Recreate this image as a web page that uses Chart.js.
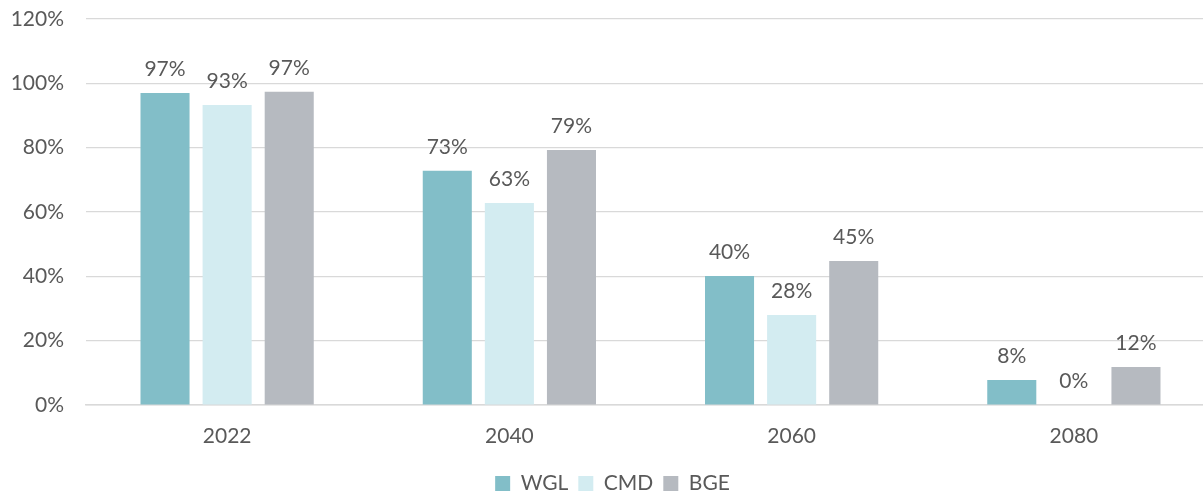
<!DOCTYPE html>
<html>
<head>
<meta charset="utf-8">
<script src="https://cdn.jsdelivr.net/npm/chart.js@4/dist/chart.umd.min.js"></script>
<style>
  html, body { margin: 0; padding: 0; background: #fff; overflow: hidden; }
  #wrap { position: relative; width: 1215px; height: 492px; }
</style>
</head>
<body>
<div id="wrap"><canvas id="chart"></canvas></div>
<script>
// ---- data
const years   = ['2022', '2040', '2060', '2080'];
const wglVals = [97.0, 72.8, 40.1, 7.8];
const cmdVals = [93.3, 62.8, 28.0, 0];
const bgeVals = [97.4, 79.3, 44.8, 11.8];
const yTicks  = [0, 20, 40, 60, 80, 100, 120];

const textColor = '#595959';
const fontFam   = 'Lato, "Open Sans", sans-serif';
const fontSize  = 21;

// ---- value labels above bars
const barLabels = {
  id: 'barLabels',
  afterInit(chart) {
    // keep the legend band short so the plot can reach further down
    const origFit = chart.legend.fit;
    chart.legend.fit = function () { origFit.call(this); this.height = 29; };
  },
  afterDatasetsDraw(chart) {
    const ctx = chart.ctx;
    ctx.save();
    ctx.font = fontSize + 'px ' + fontFam;
    ctx.fillStyle = textColor;
    ctx.textAlign = 'center';
    ctx.textBaseline = 'alphabetic';
    chart.data.datasets.forEach((ds, i) => {
      chart.getDatasetMeta(i).data.forEach((bar, j) => {
        ctx.fillText(Math.round(ds.data[j]) + '%', bar.x, bar.y - 17);
      });
    });
    ctx.restore();
  }
};

new Chart(document.getElementById('chart'), {
  type: 'bar',
  data: {
    labels: years,
    datasets: [
      { label: 'WGL', data: wglVals, backgroundColor: '#82BEC8' },
      { label: 'CMD', data: cmdVals, backgroundColor: '#D3ECF1' },
      { label: 'BGE', data: bgeVals, backgroundColor: '#B6BAC0' }
    ]
  },
  options: {
    responsive: true,
    maintainAspectRatio: false,
    animation: false,
    layout: { padding: { left: 10, right: 0, top: 19, bottom: 0 } },
    datasets: { bar: { barPercentage: 0.79, categoryPercentage: 0.66 } },
    scales: {
      x: {
        grid: { display: false },
        border: { display: true, color: '#D9D9D9', width: 1.5 },
        ticks: { color: textColor, font: { family: fontFam, size: fontSize }, padding: 11 },
        afterFit: axis => { axis.height = 58; }
      },
      y: {
        min: 0, max: 120,
        afterBuildTicks: axis => { axis.ticks = yTicks.map(v => ({ value: v })); },
        grid: { color: '#D9D9D9', lineWidth: 1.2, drawTicks: false },
        border: { display: false },
        ticks: {
          color: textColor, font: { family: fontFam, size: fontSize }, padding: 22,
          callback: v => v + '%'
        },
        afterFit: axis => { axis.width = 76; axis.paddingTop = 0; axis.paddingBottom = 0; }
      }
    },
    plugins: {
      legend: {
        position: 'bottom',
        labels: {
          color: textColor, font: { family: fontFam, size: fontSize },
          boxWidth: 15, boxHeight: 15, padding: 10
        }
      },
      tooltip: { enabled: false }
    }
  },
  plugins: [barLabels]
});
</script>
</body>
</html>
